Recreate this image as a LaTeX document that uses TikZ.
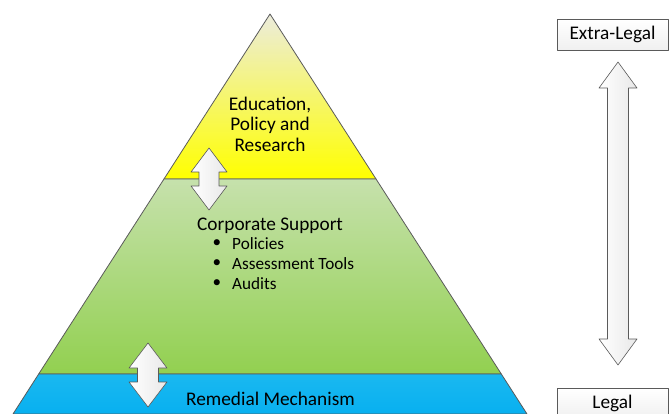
\documentclass[tikz,border=0pt]{standalone}
\usepackage{fontspec}
\setmainfont{Carlito}
\usetikzlibrary{calc}

\definecolor{geelboven}{RGB}{236,236,220}
\definecolor{geelonder}{RGB}{255,255,0}
\definecolor{groenboven}{RGB}{198,225,172}
\definecolor{groenonder}{RGB}{146,208,80}
\definecolor{blauwboven}{RGB}{26,184,240}
\definecolor{blauwonder}{RGB}{8,176,240}
\definecolor{rand}{RGB}{90,90,90}

\tikzset{
  laag/.style={draw=rand, line width=0.8pt},
  pijl/.style={draw=rand, line width=0.6pt, left color=white, right color=gray!18},
  kader/.style={draw=rand, line width=0.6pt, top color=white, bottom color=gray!12,
    minimum width=111pt, minimum height=31pt, inner sep=0pt},
  tekst/.style={font=\fontsize{19.3}{20.5}\selectfont, inner sep=0pt},
  punt/.style={font=\fontsize{17.2}{20}\selectfont, inner sep=0pt}
}

\begin{document}
\begin{tikzpicture}[x=1pt, y=-1pt, line join=round, >=latex]
      \useasboundingbox (0,0) rectangle (672,414);

      % Helling van de piramide
      \def\s{0.6425}
      \coordinate (top) at (270,14);

      % Lagen van de piramide
      \shade[laag, top color=geelboven, bottom color=geelonder]
        (top) -- ({270-\s*165},179) -- ({270+\s*165},179) -- cycle;
      \shade[laag, top color=groenboven, bottom color=groenonder]
        ({270-\s*165},179) -- ({270-\s*360},374) -- ({270+\s*360},374) -- ({270+\s*165},179) -- cycle;
      \shade[laag, top color=blauwboven, bottom color=blauwonder]
        ({270-\s*360},374) -- ({270-\s*400},414) -- ({270+\s*400},414) -- ({270+\s*360},374) -- cycle;

      % Dubbele pijlen (x, bovenpunt, onderpunt, kop, halve kopbreedte, halve schacht)
      \foreach \cx/\yt/\yb/\hl/\hw/\sw in {209/148/210/24/18/10, 148/343/407/25/19/10.5, 618/62/365/26/19/10.5}{
        \shade[pijl] (\cx,\yt) -- ({\cx+\hw},{\yt+\hl}) -- ({\cx+\sw},{\yt+\hl})
          -- ({\cx+\sw},{\yb-\hl}) -- ({\cx+\hw},{\yb-\hl}) -- (\cx,\yb)
          -- ({\cx-\hw},{\yb-\hl}) -- ({\cx-\sw},{\yb-\hl}) -- ({\cx-\sw},{\yt+\hl})
          -- ({\cx-\hw},{\yt+\hl}) -- cycle;
      }

      % Teksten in de piramide
      \node[tekst, align=center] (onderwijs) at (270,124) {Education,\\Policy and\\Research};
      \node[tekst, anchor=west] (steun) at (197,226) {Corporate Support};
      \foreach \t [count=\i] in {Policies, Assessment Tools, Audits}{
        \node[punt] (bol\i) at (217,{224+20*\i}) {\textbullet};
        \node[punt, anchor=west] (item\i) at (232,{224+20*\i}) {\t};
      }
      \node[tekst, anchor=west] (herstel) at (186,399) {Remedial Mechanism};

      % Kaders rechts
      \node[kader, tekst] (buiten) at (612.5,34.5) {Extra-Legal};
      \node[kader, tekst] (wettelijk) at (612.5,403.5) {Legal};
    \end{tikzpicture}
\end{document}
